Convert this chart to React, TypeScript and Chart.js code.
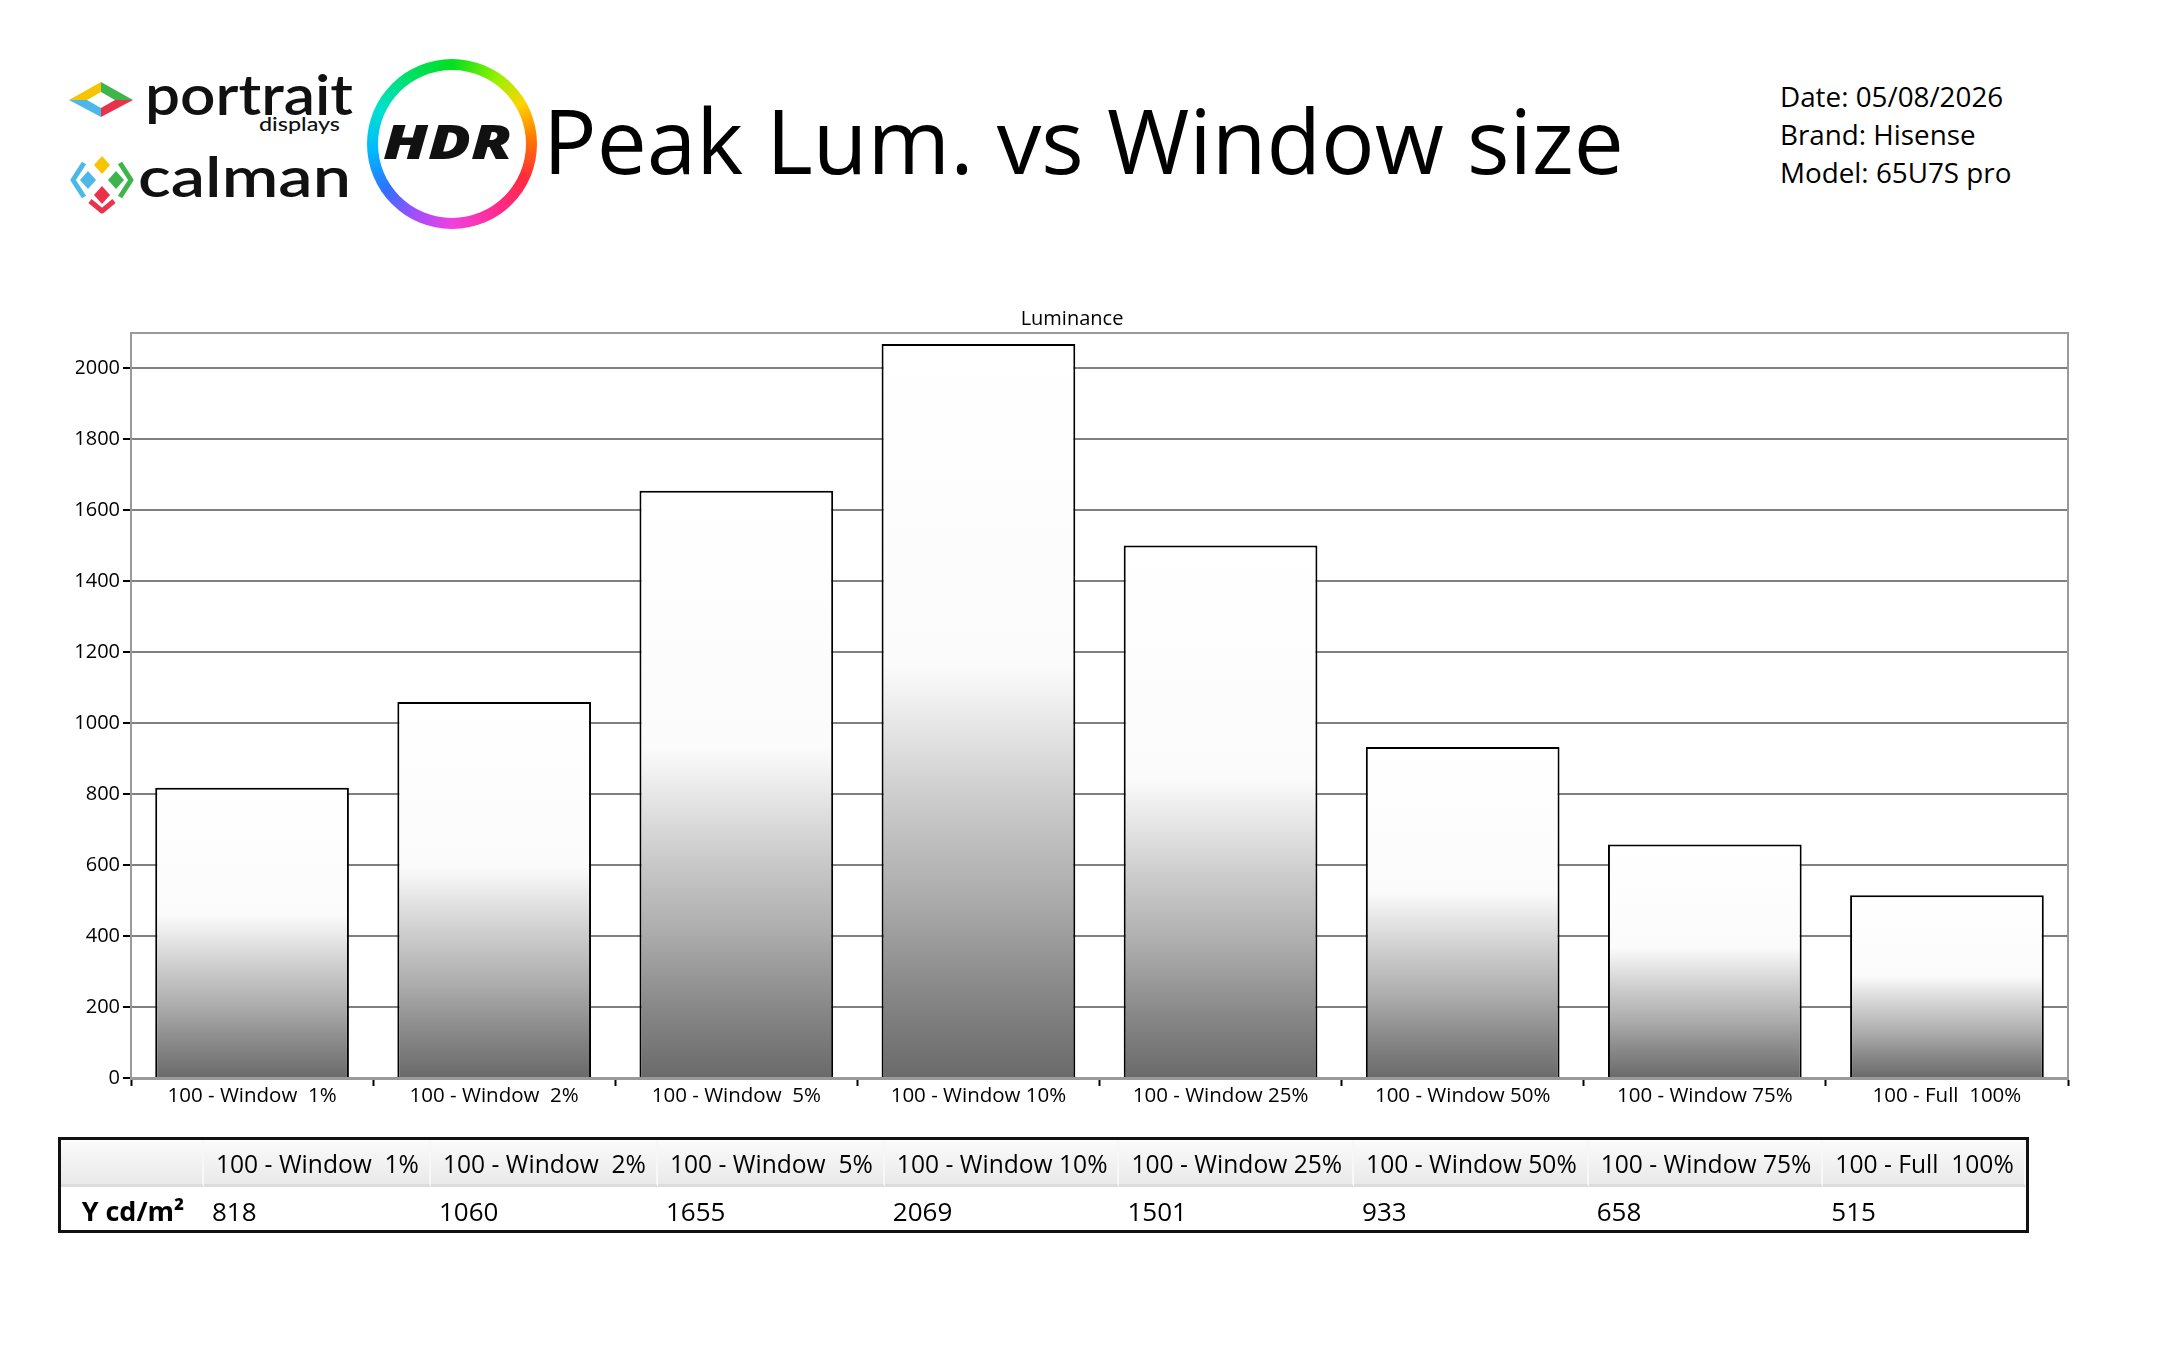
import React, { useEffect, useRef } from 'react';
import { Chart, registerables } from 'chart.js';

Chart.register(...registerables);

// ---------- data ----------
const CATEGORIES = [
  '100 - Window  1%',
  '100 - Window  2%',
  '100 - Window  5%',
  '100 - Window 10%',
  '100 - Window 25%',
  '100 - Window 50%',
  '100 - Window 75%',
  '100 - Full  100%',
];
const LUMINANCE = [818, 1060, 1655, 2069, 1501, 933, 658, 515];
const Y_TICKS = [0, 200, 400, 600, 800, 1000, 1200, 1400, 1600, 1800, 2000];
const Y_MAX = 2100;
const SERIES_LABEL = 'Luminance';
const ROW_LABEL = 'Y cd/m²';
const TITLE = 'Peak Lum. vs Window size';
const INFO_LINES = ['Date: 05/08/2026', 'Brand: Hisense', 'Model: 65U7S pro'];

const FONT = "'Open Sans', 'Noto Sans', sans-serif";

const framePlugin = {
  id: 'frame',
  afterDatasetsDraw(chart: any) {
    const { ctx, chartArea: a } = chart;
    ctx.save();
    ctx.strokeStyle = '#9a9a9a';
    ctx.lineWidth = 2;
    ctx.beginPath();
    ctx.moveTo(a.left, a.top);
    ctx.lineTo(a.right, a.top);
    ctx.lineTo(a.right, a.bottom);
    ctx.stroke();
    ctx.restore();
  },
};

function barFill(ctx: any) {
  const chart = ctx.chart;
  if (ctx.type !== 'data' || !chart.chartArea) return '#cccccc';
  const y = chart.scales.y;
  const v = ctx.parsed ? ctx.parsed.y : ctx.raw;
  const bottom = y.getPixelForValue(0);
  const top = y.getPixelForValue(v);
  const g = chart.ctx.createLinearGradient(0, bottom, 0, top);
  g.addColorStop(0, '#6a6a6a');
  g.addColorStop(0.12, '#888888');
  g.addColorStop(0.25, '#adadad');
  g.addColorStop(0.38, '#cccccc');
  g.addColorStop(0.48, '#e6e6e6');
  g.addColorStop(0.56, '#fbfbfb');
  g.addColorStop(1, '#ffffff');
  return g;
}

function LumChart() {
  const ref = useRef<HTMLCanvasElement | null>(null);
  useEffect(() => {
    if (!ref.current) return;
    const chart = new Chart(ref.current, {
      type: 'bar',
      data: {
        labels: CATEGORIES,
        datasets: [
          {
            label: SERIES_LABEL,
            data: LUMINANCE,
            backgroundColor: barFill as any,
            borderColor: '#000000',
            borderWidth: 2,
            categoryPercentage: 1,
            barPercentage: 0.8,
          },
        ],
      },
      options: {
        animation: false,
        responsive: false,
        layout: { padding: { left: 76, right: 92, top: 0, bottom: 0 } },
        plugins: {
          legend: { display: false },
          tooltip: { enabled: false },
          title: {
            display: true,
            text: SERIES_LABEL,
            color: '#000',
            font: { family: FONT, size: 20, weight: 'normal' as any },
            padding: { top: 27, bottom: 2 },
          },
        },
        scales: {
          x: {
            z: 1,
            offset: true,
            grid: {
              offset: true,
              drawOnChartArea: false,
              drawTicks: true,
              tickLength: 8,
              tickColor: '#000',
              tickWidth: 2,
            },
            border: { color: '#9a9a9a', width: 3 },
            ticks: {
              color: '#000',
              font: { family: FONT, size: 20.5 },
              padding: -2,
              maxRotation: 0,
              autoSkip: false,
            },
            afterFit: (s: any) => {
              s.height = 62;
            },
          },
          y: {
            min: 0,
            max: Y_MAX,
            grid: {
              color: '#808080',
              lineWidth: 2,
              tickLength: 8,
              tickColor: '#000',
              tickWidth: 2,
            },
            border: { color: '#9a9a9a', width: 2 },
            ticks: {
              color: '#000',
              font: { family: FONT, size: 20 },
              padding: 3,
              callback: (v: any) => String(v),
            },
            afterBuildTicks: (s: any) => {
              s.ticks = Y_TICKS.map((v) => ({ value: v }));
            },
            afterFit: (s: any) => {
              s.width = 55;
            },
          },
        },
      },
      plugins: [framePlugin],
    });
    return () => chart.destroy();
  }, []);
  return (
    <canvas
      ref={ref}
      width={2160}
      height={860}
      style={{ position: 'absolute', left: 0, top: 280, width: 2160, height: 860 }}
    />
  );
}

function Header() {
  const ringStops =
    '#00e020 0deg, #9af000 35deg, #ffd400 60deg, #ff7a00 85deg, #ff2a3c 115deg, #ff2a8c 145deg, #f040e0 180deg, #9a50ff 210deg, #3070ff 235deg, #00b8ff 265deg, #00e0d0 295deg, #00e060 330deg, #00e020 360deg';
  return (
    <>
      <div
        style={{
          position: 'absolute',
          left: 367,
          top: 59,
          width: 170,
          height: 170,
          borderRadius: '50%',
          background: `conic-gradient(${ringStops})`,
        }}
      />
      <div
        style={{
          position: 'absolute',
          left: 378,
          top: 70,
          width: 148,
          height: 148,
          borderRadius: '50%',
          background: '#fff',
        }}
      />
      <svg
        width={2160}
        height={280}
        style={{ position: 'absolute', left: 0, top: 0, zIndex: 2 }}
      >
        {/* portrait displays icon */}
        <polygon points="69,100 101,82 101,92 87,100" fill="#f6c400" />
        <polygon points="101,82 133,100 115,100 101,92" fill="#3db54a" />
        <polygon points="133,100 101,117 101,108 115,100" fill="#e8334a" />
        <polygon points="101,117 69,100 87,100 101,108" fill="#4cb8e8" />
        <text x={145} y={115} fontFamily="Lato, 'Open Sans', sans-serif" fontWeight={600} fontSize={55} textLength={208} lengthAdjust="spacingAndGlyphs" fill="#111">
          portrait
        </text>
        <text x={259} y={131} fontFamily="Lato, 'Open Sans', sans-serif" fontWeight={500} fontSize={19} textLength={81} lengthAdjust="spacingAndGlyphs" fill="#111">
          displays
        </text>
        {/* calman icon */}
        <polygon points="102,156 110,165 102,174 94,165" fill="#f6c400" />
        <polygon points="88,171 96,180 88,189 80,180" fill="#4cb8e8" />
        <polygon points="116,171 124,180 116,189 108,180" fill="#3db54a" />
        <polygon points="102,186 110,195 102,204 94,195" fill="#e8334a" />
        <polyline points="84,163 73,180 84,197" fill="none" stroke="#4cb8e8" strokeWidth={5} strokeLinejoin="round" />
        <polyline points="120,163 131,180 120,197" fill="none" stroke="#3db54a" strokeWidth={5} strokeLinejoin="round" />
        <polyline points="90,201 102,211 114,201" fill="none" stroke="#e8334a" strokeWidth={5} strokeLinejoin="round" />
        <text x={138} y={197} fontFamily="Lato, 'Open Sans', sans-serif" fontWeight={600} fontSize={55} textLength={213} lengthAdjust="spacingAndGlyphs" fill="#111">
          calman
        </text>
        {/* HDR */}
        <text x={383} y={159} fontFamily={FONT} fontWeight={800} fontStyle="italic" fontSize={48} textLength={129} lengthAdjust="spacingAndGlyphs" fill="#111">
          HDR
        </text>
        {/* title */}
        <text x={543} y={174} fontFamily={FONT} fontSize={89.2} fill="#000">
          {TITLE}
        </text>
        {INFO_LINES.map((t, i) => (
          <text key={t} x={1780} y={107 + i * 38} fontFamily={FONT} fontSize={27.8} fill="#000">
            {t}
          </text>
        ))}
      </svg>
    </>
  );
}

function DataTable() {
  const thBase: React.CSSProperties = {
    background: 'linear-gradient(#fbfbfb, #e9e9e9)',
    borderRight: '2px solid #f7f7f7',
    borderBottom: '3px solid #dcdcdc',
    height: 47,
    boxSizing: 'border-box',
    padding: '3px 10px 0 12px',
    fontWeight: 'normal',
    fontSize: 24.6,
    textAlign: 'left',
    whiteSpace: 'pre',
  };
  const tdBase: React.CSSProperties = {
    height: 43,
    boxSizing: 'border-box',
    padding: '5px 9px 0 8px',
    whiteSpace: 'pre',
    textAlign: 'left',
    fontSize: 26,
  };
  return (
    <table
      style={{
        position: 'absolute',
        left: 58,
        top: 1137,
        borderCollapse: 'separate',
        borderSpacing: 0,
        border: '3px solid #111',
        fontFamily: FONT,
        color: '#000',
        lineHeight: '30px',
      }}
    >
      <thead>
        <tr>
          <th style={{ ...thBase, width: 143 }} />
          {CATEGORIES.map((c) => (
            <th key={c} style={thBase}>
              {c}
            </th>
          ))}
        </tr>
      </thead>
      <tbody>
        <tr>
          <td style={{ ...tdBase, fontWeight: 'bold', fontSize: 27, textAlign: 'center', paddingLeft: 10 }}>{ROW_LABEL}</td>
          {LUMINANCE.map((v, i) => (
            <td key={i} style={tdBase}>
              {String(v)}
            </td>
          ))}
        </tr>
      </tbody>
    </table>
  );
}

export default function App() {
  return (
    <div
      style={{
        position: 'absolute',
        left: 0,
        top: 0,
        width: 2160,
        height: 1350,
        background: '#fff',
        overflow: 'hidden',
        fontFamily: FONT,
      }}
    >
      <Header />
      <LumChart />
      <DataTable />
    </div>
  );
}
